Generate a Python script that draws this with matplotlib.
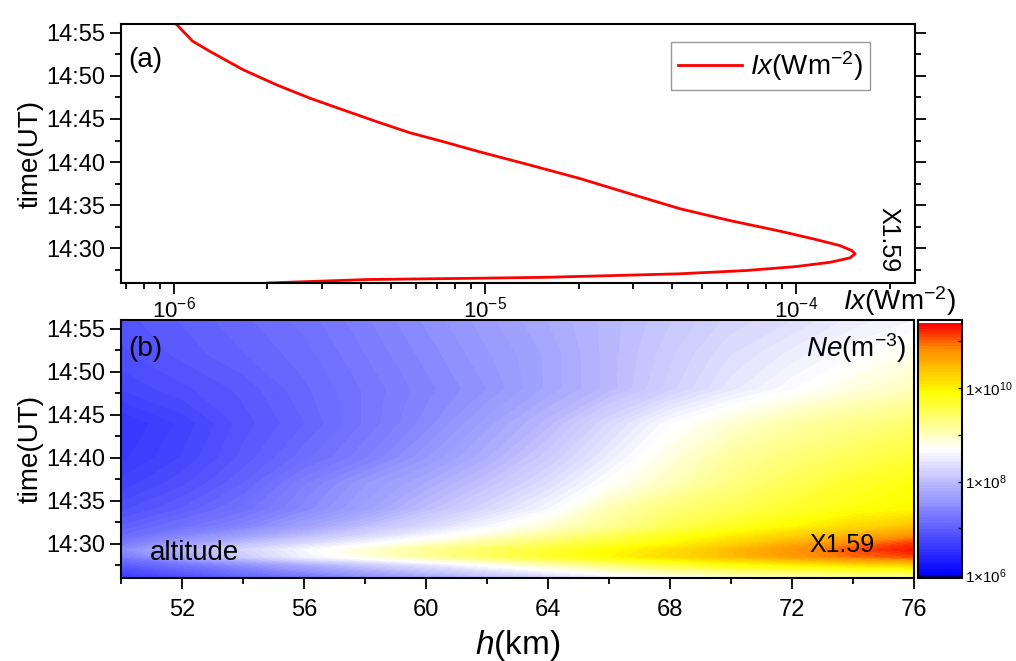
"""Figura: flujo de rayos X (a) y densidad electronica Ne (b)"""
import numpy as np
import matplotlib
matplotlib.use("Agg")
import matplotlib.pyplot as plt
from matplotlib.colors import LinearSegmentedColormap
from matplotlib.ticker import MultipleLocator, FuncFormatter, LogLocator, NullFormatter

plt.rcParams['font.family'] = ['Liberation Sans', 'DejaVu Sans']
plt.rcParams['mathtext.fontset'] = 'custom'
plt.rcParams['mathtext.rm'] = 'Liberation Sans'
plt.rcParams['mathtext.it'] = 'Liberation Sans:italic'

# Panel (a): tiempo (minutos despues de 14:00) e Ix (W m^-2)
tiempo_ix = [26.0, 26.4, 26.48, 26.55, 26.66, 26.86, 27.06, 27.44, 27.9, 28.4,
             28.9, 29.38, 29.77, 30.35, 31.1, 32.0, 33.25, 34.6, 36.35, 38.1,
             39.65, 41.2, 42.4, 43.4, 44.7, 46.05, 47.4, 48.95, 50.7, 52.8,
             54.0, 56.1]
ix = [2.0e-6, 4.2e-6, 6.5e-6, 9.6e-6, 1.58e-5, 2.6e-5, 4.2e-5, 6.9e-5, 1.0e-4, 1.29e-4,
      1.49e-4, 1.55e-4, 1.51e-4, 1.38e-4, 1.14e-4, 8.9e-5, 6.1e-5, 4.24e-5, 2.92e-5, 2.02e-5,
      1.4e-5, 9.6e-6, 7.3e-6, 5.74e-6, 4.48e-6, 3.5e-6, 2.74e-6, 2.14e-6, 1.67e-6, 1.31e-6,
      1.15e-6, 1.01e-6]

# Panel (b): log10(Ne) en funcion de altura (km) y tiempo
alturas = [50, 52, 54, 56, 58, 60, 62, 64, 66, 68, 70, 72, 74, 76]
tiempos_ne = [26, 27.5, 28.5, 29.3, 30, 31, 32, 34, 37, 40, 44, 48, 52, 56]
log_ne = [
    [6.6, 6.8, 7.0, 7.2, 7.45, 7.7, 7.95, 8.2, 8.45, 8.65, 8.8, 8.9, 9.0, 9.05],
    [6.95, 7.2, 7.5, 7.8, 8.1, 8.4, 8.7, 9.0, 9.3, 9.6, 9.85, 10.0, 10.15, 10.25],
    [7.3, 7.75, 8.15, 8.55, 8.85, 9.15, 9.45, 9.7, 9.95, 10.2, 10.45, 10.7, 10.95, 11.1],
    [7.45, 7.9, 8.25, 8.6, 8.9, 9.2, 9.45, 9.65, 9.9, 10.15, 10.45, 10.75, 11.05, 11.3],
    [7.3, 7.65, 8.0, 8.3, 8.6, 8.9, 9.2, 9.45, 9.7, 9.95, 10.25, 10.55, 10.85, 11.15],
    [7.1, 7.4, 7.65, 7.95, 8.25, 8.55, 8.85, 9.15, 9.45, 9.75, 10.0, 10.25, 10.5, 10.75],
    [7.0, 7.2, 7.4, 7.7, 8.0, 8.3, 8.6, 8.9, 9.2, 9.5, 9.75, 9.95, 10.2, 10.4],
    [6.85, 7.0, 7.2, 7.45, 7.7, 8.0, 8.3, 8.6, 9.05, 9.35, 9.5, 9.7, 9.85, 9.95],
    [6.7, 6.85, 7.05, 7.35, 7.6, 7.8, 8.05, 8.35, 8.7, 9.0, 9.3, 9.5, 9.7, 9.85],
    [6.6, 6.75, 6.95, 7.15, 7.35, 7.6, 7.85, 8.15, 8.5, 8.85, 9.15, 9.35, 9.5, 9.65],
    [6.55, 6.7, 6.9, 7.05, 7.25, 7.45, 7.7, 7.95, 8.3, 8.65, 8.9, 9.1, 9.25, 9.4],
    [6.75, 6.85, 6.95, 7.1, 7.25, 7.4, 7.55, 7.75, 7.95, 8.2, 8.45, 8.65, 8.85, 9.0],
    [6.85, 6.95, 7.05, 7.15, 7.3, 7.45, 7.6, 7.75, 7.95, 8.15, 8.35, 8.5, 8.65, 8.8],
    [6.9, 7.0, 7.1, 7.2, 7.35, 7.5, 7.65, 7.8, 7.95, 8.1, 8.25, 8.35, 8.5, 8.6],
]
ticks_barra = [6, 8, 10]

NE_MIN = 5.94
NE_MAX = 11.45


def hora(valor, pos):
    """Etiqueta tipo 14:mm"""
    return f"14:{int(round(valor)):02d}"


def estilo_tiempo(ax):
    ax.set_ylim(26, 56)
    ax.yaxis.set_major_locator(MultipleLocator(5))
    ax.yaxis.set_minor_locator(MultipleLocator(2.5))
    ax.yaxis.set_major_formatter(FuncFormatter(hora))
    ax.set_ylabel('time(UT)', fontsize=20, labelpad=2)
    ax.tick_params(which='both', direction='out', width=1.3, labelsize=17)
    ax.tick_params(which='major', length=8)
    ax.tick_params(which='minor', length=4.5)
    for s in ax.spines.values():
        s.set_linewidth(1.5)


fig = plt.figure(figsize=(10.16, 6.61), dpi=100)

# ---- panel (a)
ax1 = fig.add_axes([0.1191, 0.5719, 0.7815, 0.3918])
ax1.plot(ix, tiempo_ix, color='red', lw=2.0, label=r'$\mathit{Ix}$(Wm$^{-2}$)')
ax1.set_xscale('log')
ax1.set_xlim(10**-6.17, 10**-3.617)
ax1.xaxis.set_major_locator(LogLocator(base=10, numticks=10))
ax1.xaxis.set_minor_locator(LogLocator(base=10, subs=np.arange(2, 10), numticks=10))
ax1.xaxis.set_minor_formatter(NullFormatter())
estilo_tiempo(ax1)
ax1.tick_params(axis='y', which='both', right=True)
ax1.tick_params(axis='x', pad=2, labelsize=16)
ax1.text(0.009, 0.862, '(a)', transform=ax1.transAxes, fontsize=20, va='center')
ax1.text(0.966, 0.166, 'X1.59', transform=ax1.transAxes, fontsize=18,
         rotation=-90, ha='center', va='center')
leg = ax1.legend(loc='upper right', bbox_to_anchor=(0.943, 0.93), borderaxespad=0,
                 fontsize=20, frameon=True, fancybox=False, handlelength=2.3,
                 handletextpad=0.3, borderpad=0.25)
leg.get_frame().set_edgecolor('#808080')
leg.get_frame().set_linewidth(1.0)
fig.text(0.885, 1 - 301 / 661, r'$\mathit{Ix}$(Wm$^{-2}$)', fontsize=20,
         ha='center', va='center')

# ---- panel (b)
colores = [(0.0, '#000000'), (0.011, '#0000ff'), (0.5, '#ffffff'),
           (0.722, '#ffff00'), (0.889, '#ff8c00'), (0.985, '#ff0000'),
           (0.99, '#ffffff'), (1.0, '#ffffff')]
mapa = LinearSegmentedColormap.from_list('azul_rojo', colores)

ax2 = fig.add_axes([0.1191, 0.1256, 0.7805, 0.3903])
niveles = np.linspace(NE_MIN, NE_MAX, 90)
cs = ax2.contourf(alturas, tiempos_ne, np.array(log_ne), levels=niveles, cmap=mapa)
ax2.set_xlim(50, 76)
ax2.set_xticks([52, 56, 60, 64, 68, 72, 76])
ax2.set_xticks([50, 54, 58, 62, 66, 70, 74], minor=True)
estilo_tiempo(ax2)
ax2.tick_params(axis='x', pad=7)
ax2.set_xlabel(r'$\mathit{h}$(km)', fontsize=24)
ax2.xaxis.set_label_coords(0.5, -0.26)
ax2.xaxis.label.set_va('center')
ax2.text(0.009, 0.888, '(b)', transform=ax2.transAxes, fontsize=20, va='center')
ax2.text(0.991, 0.89, r'$\mathit{Ne}$(m$^{-3}$)', transform=ax2.transAxes, fontsize=20,
         ha='right', va='center')
ax2.text(0.037, 0.095, 'altitude', transform=ax2.transAxes, fontsize=20, va='center')
ax2.text(0.909, 0.128, 'X1.59', transform=ax2.transAxes, fontsize=18, ha='center', va='center')

cax = fig.add_axes([0.9035, 0.1256, 0.0433, 0.3903])
barra = fig.colorbar(cs, cax=cax)
barra.set_ticks(ticks_barra)
barra.set_ticklabels([rf'1$\times$10$^{{{v}}}$' for v in ticks_barra])
cax.set_yticks([7, 9, 11], minor=True)
cax.tick_params(which='both', direction='in', length=3, width=1.0, labelsize=11, pad=2)
barra.outline.set_linewidth(1.5)

plt.savefig('out.png', dpi=100)
